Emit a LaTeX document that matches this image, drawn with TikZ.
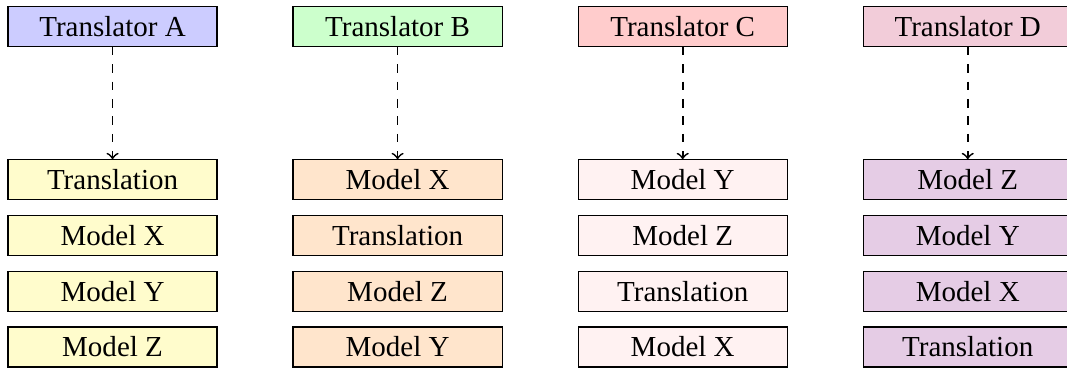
\documentclass[tikz,border=0pt]{standalone}
\usepackage{fontspec}
\setmainfont{Liberation Serif}
\usepackage{xcolor}
\usetikzlibrary{positioning,arrows.meta}

\tikzset{
    box/.style={draw, minimum width=2.533cm, minimum height=0.485cm, inner sep=0pt},
    translator/.style={box},
    model/.style={box},
}

\begin{document}
\begin{tikzpicture}[>=to, node distance=0.176cm]
    \useasboundingbox (0,0) rectangle (12.93,4.45);

    % Translator A
    \node[translator, fill=blue!20] (tA) at (1.364,4.133) {Translator A};
    \node[model, fill=yellow!20] (a1) at (1.364,2.27) {Translation};
    \node[model, fill=yellow!20, below=of a1] (a2) {Model X};
    \node[model, fill=yellow!20, below=of a2] (a3) {Model Y};
    \node[model, fill=yellow!20, below=of a3] (a4) {Model Z};
    \draw[->, dashed, semithick] (tA) -- (a1);

    % Translator B
    \node[translator, fill=green!20] (tB) at (4.818,4.133) {Translator B};
    \node[model, fill=orange!20] (b1) at (4.818,2.27) {Model X};
    \node[model, fill=orange!20, below=of b1] (b2) {Translation};
    \node[model, fill=orange!20, below=of b2] (b3) {Model Z};
    \node[model, fill=orange!20, below=of b3] (b4) {Model Y};
    \draw[->, dashed, semithick] (tB) -- (b1);

    % Translator C
    \node[translator, fill=red!20] (tC) at (8.273,4.133) {Translator C};
    \node[model, fill=pink!20] (c1) at (8.273,2.27) {Model Y};
    \node[model, fill=pink!20, below=of c1] (c2) {Model Z};
    \node[model, fill=pink!20, below=of c2] (c3) {Translation};
    \node[model, fill=pink!20, below=of c3] (c4) {Model X};
    \draw[->, dashed, semithick] (tC) -- (c1);

    % Translator D
    \node[translator, fill=purple!20] (tD) at (11.727,4.133) {Translator D};
    \node[model, fill=violet!20] (d1) at (11.727,2.27) {Model Z};
    \node[model, fill=violet!20, below=of d1] (d2) {Model Y};
    \node[model, fill=violet!20, below=of d2] (d3) {Model X};
    \node[model, fill=violet!20, below=of d3] (d4) {Translation};
    \draw[->, dashed, semithick] (tD) -- (d1);
\end{tikzpicture}
\end{document}
